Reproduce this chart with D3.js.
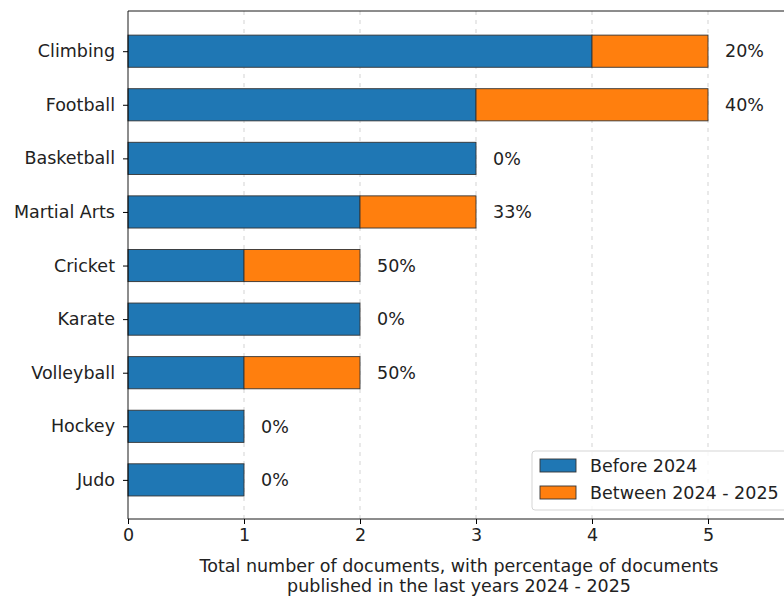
<!DOCTYPE html>
<html><head><meta charset="utf-8">
<script src="https://cdn.jsdelivr.net/npm/d3@7"></script>
<style>body{margin:0;background:#fff}svg{display:block}text{font-family:"DejaVu Sans",sans-serif;fill:#222}</style>
</head><body>
<svg id="c" width="784" height="596"></svg>
<script>
const categories = ["Climbing","Football","Basketball","Martial Arts","Cricket","Karate","Volleyball","Hockey","Judo"];
const before2024 = [4,3,3,2,1,2,1,1,1];
const between2024_2025 = [1,2,0,1,1,0,1,0,0];
const percentLabels = ["20%","40%","0%","33%","50%","0%","50%","0%","0%"];
const xTicks = [0,1,2,3,4,5];
const seriesNames = ["Before 2024","Between 2024 - 2025"];
const colors = ["#1f77b4","#ff7f0e"];

const FS = 17.5;
const svg = d3.select("#c");
const L = 128, T = 11, B = 519;
const x = d3.scaleLinear().domain([0,5.8]).range([L, L + 116*5.8]);
const n = categories.length;
const y = d3.scaleLinear().domain([-0.75, n - 1 + 0.73]).range([T, B]);
const barH = y(0.3) - y(-0.3);

// grid
svg.append("g").selectAll("line").data(xTicks.slice(1)).join("line")
  .attr("x1", d => x(d)).attr("x2", d => x(d)).attr("y1", T).attr("y2", B)
  .attr("stroke", "#c8c8c8").attr("stroke-width", 0.8).attr("stroke-dasharray", "4,5");

const g = svg.append("g");
categories.forEach((c, i) => {
  const b = before2024[i], a = between2024_2025[i];
  g.append("rect").attr("x", x(0)).attr("y", y(i) - barH/2).attr("width", x(b) - x(0)).attr("height", barH)
    .attr("fill", colors[0]).attr("stroke", "#333").attr("stroke-width", 0.9);
  if (a > 0) g.append("rect").attr("x", x(b)).attr("y", y(i) - barH/2).attr("width", x(b + a) - x(b)).attr("height", barH)
    .attr("fill", colors[1]).attr("stroke", "#333").attr("stroke-width", 0.9);
  g.append("text").attr("x", x(b + a) + 17).attr("y", y(i)).attr("dy", "0.36em")
    .attr("font-size", FS).text(percentLabels[i]);
});

// top spine
svg.append("line").attr("x1", L).attr("x2", 800).attr("y1", T).attr("y2", T).attr("stroke", "#000").attr("stroke-width", 0.9);

// x axis
const xa = svg.append("g").attr("transform", `translate(0,${B})`)
  .call(d3.axisBottom(x).tickValues(xTicks).tickFormat(d3.format("d")).tickSize(5).tickPadding(5));
xa.select(".domain").attr("stroke", "#000").attr("stroke-width", 0.9).attr("d", `M${L},0H800`);
xa.selectAll("text").attr("font-size", FS).style("font-family", "DejaVu Sans").attr("fill", "#222");

// y axis
const ya = svg.append("g").attr("transform", `translate(${L},0)`)
  .call(d3.axisLeft(y).tickValues(d3.range(n)).tickFormat(i => categories[i]).tickSize(5).tickPadding(8));
ya.select(".domain").attr("stroke", "#000").attr("stroke-width", 0.9).attr("d", `M0,${T}V${B}`);
ya.selectAll("text").attr("font-size", FS).style("font-family", "DejaVu Sans").attr("fill", "#222");

// x label
const xl = svg.append("text").attr("text-anchor", "middle").attr("font-size", FS).attr("x", 459);
xl.append("tspan").attr("x", 459).attr("y", 572).text("Total number of documents, with percentage of documents");
xl.append("tspan").attr("x", 459).attr("y", 592).text("published in the last years 2024 - 2025");

// legend
const lg = svg.append("g");
lg.append("rect").attr("x", 532).attr("y", 451).attr("width", 270).attr("height", 59).attr("rx", 3)
  .attr("fill", "#fff").attr("fill-opacity", 0.8).attr("stroke", "#d0d0d0").attr("stroke-width", 0.9);
seriesNames.forEach((s, i) => {
  lg.append("rect").attr("x", 540).attr("y", 459 + i*27).attr("width", 36).attr("height", 13)
    .attr("fill", colors[i]).attr("stroke", "#333").attr("stroke-width", 0.9);
  lg.append("text").attr("x", 590).attr("y", 466 + i*27).attr("dy", "0.36em").attr("font-size", FS).text(s);
});
</script>
</body></html>
